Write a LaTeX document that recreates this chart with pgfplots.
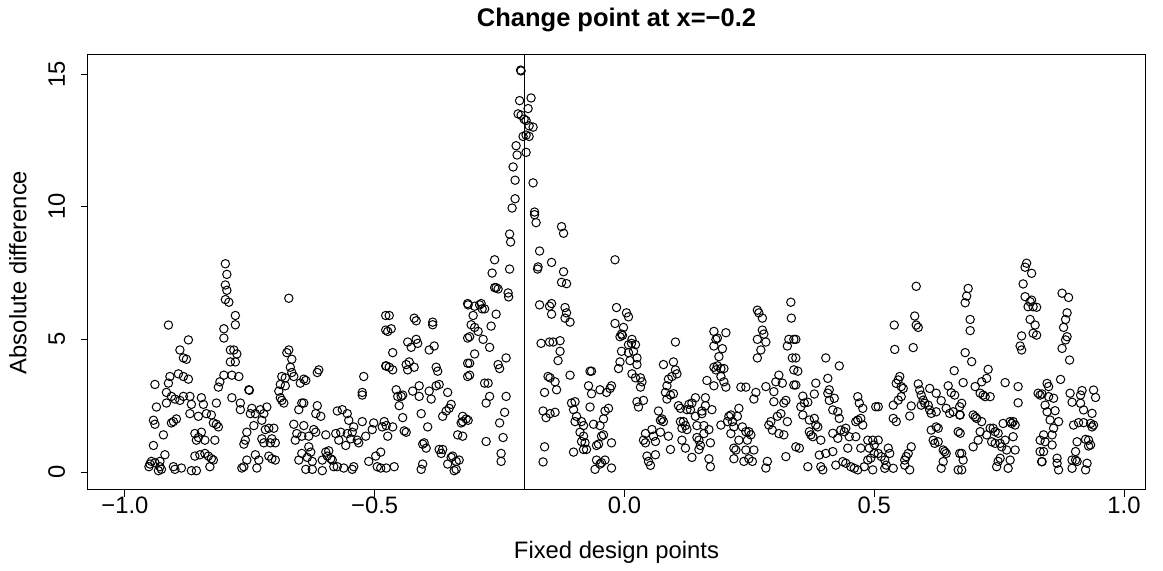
\documentclass[border=0pt]{standalone}
\usepackage{fontspec}
\setmainfont{Liberation Sans}
\usepackage{pgfplots}
\pgfplotsset{compat=1.18}
\begin{document}
\begin{tikzpicture}
\useasboundingbox (0,0) rectangle (581.5pt,285.5pt);
\begin{axis}[
  at={(44pt,40.5pt)}, anchor=south west,
  scale only axis, width=528.5pt, height=217.5pt,
  xmin=-1.074, xmax=1.042, ymin=-0.678, ymax=15.72,
  axis line style={line width=0.5pt},
  tick align=outside, major tick length=3.5pt,
  xtick pos=left, ytick pos=left,
  xtick={-1,-0.5,0,0.5,1}, xticklabels={−1.0,−0.5,0.0,0.5,1.0},
  ytick={0,5,10,15}, yticklabels={0,5,10,15},
  every tick/.style={black, line width=0.5pt},
  tick label style={font=\fontsize{11.9pt}{14pt}\selectfont},
  xticklabel style={anchor=base, yshift=-8.5pt},
  yticklabel style={xshift=-8pt, rotate=90, anchor=base},
  every axis title/.style={at={(0.5,1)}, anchor=base, yshift=14pt, font=\bfseries\fontsize{12.75pt}{15pt}\selectfont},
  every axis x label/.style={at={(axis description cs:0.5,0)}, anchor=base, yshift=-34.25pt, font=\fontsize{11.9pt}{14pt}\selectfont},
  every axis y label/.style={at={(axis description cs:0,0.5)}, xshift=-30.75pt, rotate=90, anchor=base, font=\fontsize{11.9pt}{14pt}\selectfont},
  title={Change point at x=−0.2},
  xlabel={Fixed design points},
  ylabel={Absolute difference},
]
\addplot[only marks, mark=o, mark size=2.1pt, mark options={line width=0.5pt, black}] coordinates {
(-0.952,0.2) (-0.950,0.3)
(-0.913,5.54) (-0.873,4.98) (-0.890,4.6) (-0.883,4.3) (-0.877,4.25) (-0.910,3.6) (-0.893,3.7) (-0.883,3.6) (-0.873,3.5) (-0.940,3.3) (-0.913,3.35) (-0.917,3.0) (-0.907,2.85) (-0.900,2.75) (-0.890,2.7) (-0.883,2.85) (-0.870,2.85) (-0.867,2.55) (-0.847,2.8) (-0.843,2.55) (-0.817,2.6) (-0.810,3.4) (-0.813,3.2) (-0.937,2.45) (-0.917,2.6) (-0.870,2.2) (-0.853,2.1) (-0.837,2.2) (-0.827,2.15) (-0.943,1.95) (-0.940,1.8) (-0.907,1.85) (-0.903,1.9) (-0.897,2.0) (-0.823,1.85) (-0.817,1.8) (-0.813,1.7) (-0.923,1.4) (-0.860,1.45) (-0.853,1.3) (-0.847,1.5) (-0.840,1.2) (-0.857,1.2) (-0.820,1.2) (-0.943,1.0) (-0.920,0.65) (-0.860,0.6) (-0.850,0.65) (-0.840,0.7) (-0.833,0.6) (-0.827,0.5) (-0.823,0.45) (-0.947,0.4) (-0.940,0.35) (-0.930,0.4) (-0.927,0.1) (-0.933,0.05) (-0.930,0.2) (-0.903,0.2) (-0.900,0.1) (-0.887,0.15) (-0.867,0.05) (-0.857,0.05) (-0.830,0.2)
(-0.799,7.85) (-0.796,7.45) (-0.799,7.05) (-0.796,6.85) (-0.799,6.5) (-0.792,6.4) (-0.672,6.55) (-0.779,5.9) (-0.779,5.55) (-0.802,5.4) (-0.802,5.05) (-0.789,4.6) (-0.782,4.6) (-0.776,4.45) (-0.789,4.15) (-0.779,4.15) (-0.672,4.6) (-0.676,4.5) (-0.666,4.25) (-0.669,3.95) (-0.666,3.75) (-0.662,3.6) (-0.679,3.55) (-0.686,3.6) (-0.689,3.3) (-0.679,3.25) (-0.802,3.65) (-0.786,3.65) (-0.772,3.6) (-0.752,3.1) (-0.751,3.08) (-0.786,2.8) (-0.769,2.6) (-0.769,2.35) (-0.746,2.4) (-0.739,2.2) (-0.749,2.2) (-0.729,2.35) (-0.722,2.2) (-0.716,2.45) (-0.726,1.95) (-0.692,3.05) (-0.689,2.8) (-0.682,2.6) (-0.686,2.7) (-0.649,3.35) (-0.646,2.6) (-0.652,2.35) (-0.742,1.75) (-0.756,1.5) (-0.759,1.2) (-0.762,1.05) (-0.719,1.6) (-0.712,1.65) (-0.702,1.65) (-0.706,1.25) (-0.709,1.1) (-0.699,1.1) (-0.726,1.25) (-0.722,1.1) (-0.662,1.8) (-0.656,1.45) (-0.659,1.2) (-0.646,1.35) (-0.739,0.65) (-0.732,0.45) (-0.712,0.6) (-0.706,0.5) (-0.699,0.45) (-0.756,0.45) (-0.762,0.2) (-0.766,0.15) (-0.736,0.15) (-0.652,0.45) (-0.646,0.7)
(-0.478,5.9) (-0.478,5.35) (-0.478,4.0) (-0.612,3.85) (-0.615,3.75) (-0.642,3.5) (-0.638,3.45) (-0.522,3.6) (-0.525,3.0) (-0.525,2.9) (-0.642,2.6) (-0.615,2.5) (-0.618,2.2) (-0.608,2.1) (-0.575,2.3) (-0.565,2.35) (-0.555,2.2) (-0.552,1.95) (-0.542,1.7) (-0.545,1.5) (-0.555,1.45) (-0.525,1.9) (-0.502,1.85) (-0.505,1.6) (-0.485,1.7) (-0.481,1.9) (-0.642,1.75) (-0.622,1.6) (-0.632,1.35) (-0.618,1.5) (-0.598,1.4) (-0.578,1.45) (-0.568,1.5) (-0.572,1.2) (-0.558,1.0) (-0.548,1.25) (-0.535,1.2) (-0.532,1.1) (-0.518,1.35) (-0.632,0.95) (-0.628,0.75) (-0.635,0.55) (-0.625,0.4) (-0.605,0.45) (-0.598,0.75) (-0.592,0.8) (-0.595,0.6) (-0.588,0.5) (-0.585,0.45) (-0.582,0.2) (-0.575,0.2) (-0.562,0.15) (-0.542,0.2) (-0.545,0.1) (-0.512,0.4) (-0.495,0.2) (-0.488,0.15) (-0.498,0.6) (-0.488,0.75) (-0.638,0.1) (-0.625,0.1) (-0.605,0.05)
(-0.471,5.9) (-0.467,5.4) (-0.474,5.3) (-0.421,5.8) (-0.417,5.7) (-0.384,5.65) (-0.384,5.55) (-0.314,6.35) (-0.314,5.05) (-0.464,4.5) (-0.434,4.9) (-0.417,5.0) (-0.414,4.85) (-0.427,4.7) (-0.391,4.6) (-0.381,4.75) (-0.477,4.0) (-0.471,3.95) (-0.464,3.85) (-0.437,4.05) (-0.431,4.15) (-0.421,3.95) (-0.434,3.85) (-0.377,3.95) (-0.374,3.8) (-0.314,4.1) (-0.314,3.6) (-0.457,3.1) (-0.454,2.85) (-0.447,2.85) (-0.451,2.5) (-0.444,2.9) (-0.424,3.05) (-0.411,3.25) (-0.391,3.05) (-0.387,2.75) (-0.377,3.25) (-0.371,3.3) (-0.354,3.0) (-0.411,2.85) (-0.364,2.1) (-0.357,2.3) (-0.347,2.55) (-0.351,2.4) (-0.324,2.1) (-0.317,2.0) (-0.477,1.75) (-0.474,1.35) (-0.464,1.7) (-0.441,1.55) (-0.437,1.5) (-0.407,2.2) (-0.394,1.7) (-0.444,2.05) (-0.327,1.85) (-0.324,1.9) (-0.334,1.4) (-0.324,1.35) (-0.401,1.1) (-0.397,0.9) (-0.404,1.05) (-0.371,0.85) (-0.367,0.7) (-0.364,0.85) (-0.347,0.55) (-0.344,0.6) (-0.337,0.4) (-0.331,0.45) (-0.354,0.3) (-0.337,0.1) (-0.341,0.05) (-0.461,0.2) (-0.477,0.15) (-0.404,0.3) (-0.407,0.1)
(-0.208,15.15) (-0.207,15.12) (-0.210,14.0) (-0.187,14.1) (-0.193,13.7) (-0.213,13.5) (-0.207,13.45) (-0.201,13.3) (-0.197,13.25) (-0.191,13.05) (-0.183,13.0) (-0.203,12.65) (-0.191,12.65) (-0.197,12.7) (-0.217,12.3) (-0.215,11.95) (-0.197,12.05) (-0.223,11.5) (-0.219,11.0) (-0.183,10.9) (-0.219,10.3) (-0.225,9.95) (-0.180,9.8) (-0.177,9.4) (-0.180,9.7) (-0.230,8.97) (-0.228,8.67) (-0.170,8.33) (-0.173,7.73) (-0.174,7.65) (-0.260,8.0) (-0.265,7.5) (-0.230,7.65) (-0.260,6.95) (-0.257,6.95) (-0.253,6.9) (-0.233,6.75) (-0.232,6.6) (-0.313,6.3) (-0.300,6.25) (-0.290,6.3) (-0.285,6.15) (-0.280,6.15) (-0.287,6.35) (-0.303,5.9) (-0.257,5.95) (-0.307,5.55) (-0.300,5.45) (-0.293,5.3) (-0.283,5.0) (-0.310,5.1) (-0.267,5.5) (-0.270,4.7) (-0.300,4.45) (-0.310,4.1) (-0.310,3.65) (-0.237,4.3) (-0.253,4.05) (-0.250,3.9) (-0.170,6.3) (-0.167,4.85) (-0.150,4.9) (-0.150,6.25) (-0.153,3.6) (-0.160,3.0) (-0.163,2.3) (-0.157,2.05) (-0.160,0.95) (-0.163,0.38) (-0.280,3.35) (-0.273,3.35) (-0.277,2.6) (-0.270,2.85) (-0.237,2.85) (-0.240,2.25) (-0.250,1.85) (-0.243,1.3) (-0.277,1.15) (-0.313,1.95) (-0.247,0.7) (-0.247,0.4)
(-0.126,9.25) (-0.122,9.0) (-0.019,8.0) (-0.146,7.9) (-0.122,7.55) (-0.126,7.15) (-0.116,7.1) (-0.146,6.35) (-0.146,5.95) (-0.119,6.2) (-0.116,6.0) (-0.119,5.8) (-0.109,5.65) (-0.016,6.2) (0.004,6.0) (0.008,5.85) (-0.019,5.6) (-0.002,5.45) (-0.006,5.2) (-0.009,5.1) (-0.004,5.15) (0.008,4.8) (-0.006,4.55) (0.008,4.5) (0.011,4.2) (-0.009,4.15) (0.014,4.85) (-0.012,3.9) (-0.143,4.9) (-0.129,4.95) (-0.129,4.55) (-0.133,4.2) (-0.149,3.55) (-0.139,3.4) (-0.136,3.1) (-0.109,3.65) (-0.069,3.8) (-0.066,3.8) (-0.072,3.25) (-0.066,2.95) (-0.069,2.45) (-0.049,3.1) (-0.036,3.0) (-0.029,3.15) (-0.026,3.25) (-0.106,2.6) (-0.099,2.65) (-0.102,2.35) (-0.096,2.1) (-0.099,1.9) (-0.086,1.9) (-0.082,1.75) (-0.089,1.5) (-0.082,1.35) (-0.086,1.15) (-0.079,1.1) (-0.082,0.85) (-0.076,0.85) (-0.102,0.75) (-0.062,1.8) (-0.049,1.75) (-0.042,2.0) (-0.039,2.3) (-0.032,2.4) (-0.046,1.35) (-0.052,1.05) (-0.056,1.0) (-0.042,1.4) (-0.026,1.1) (-0.056,0.45) (-0.046,0.35) (-0.049,0.3) (-0.039,0.45) (-0.059,0.1) (-0.026,0.15) (-0.149,2.2) (-0.139,2.25)
(0.015,5.0) (0.022,4.8) (0.018,4.55) (0.025,4.3) (0.025,4.05) (0.179,5.3) (0.179,4.75) (0.102,4.9) (0.078,4.05) (0.098,4.15) (0.102,3.85) (0.105,3.7) (0.015,3.7) (0.022,3.55) (0.032,3.55) (0.035,3.4) (0.032,3.2) (0.088,3.5) (0.095,3.6) (0.085,3.25) (0.082,3.0) (0.092,2.9) (0.098,2.95) (0.085,2.75) (0.179,3.95) (0.165,3.45) (0.025,2.65) (0.038,2.7) (0.028,2.45) (0.108,2.5) (0.112,2.4) (0.129,2.55) (0.135,2.6) (0.142,2.8) (0.132,2.35) (0.125,2.35) (0.155,2.3) (0.162,2.8) (0.162,2.5) (0.179,3.25) (0.175,2.35) (0.068,2.3) (0.072,1.95) (0.078,1.9) (0.075,2.0) (0.112,1.9) (0.115,1.65) (0.122,1.75) (0.125,1.6) (0.118,1.9) (0.142,2.1) (0.145,1.75) (0.155,2.2) (0.159,1.75) (0.159,1.45) (0.169,1.6) (0.172,1.1) (0.149,1.2) (0.152,1.0) (0.042,1.45) (0.038,1.2) (0.042,1.1) (0.055,1.6) (0.058,1.35) (0.062,1.15) (0.072,1.5) (0.088,1.35) (0.092,0.85) (0.115,1.2) (0.122,0.9) (0.145,1.3) (0.149,0.85) (0.045,0.6) (0.048,0.4) (0.052,0.25) (0.062,0.65) (0.135,0.55) (0.169,0.5) (0.172,0.2)
(0.333,6.4) (0.334,5.8) (0.266,6.1) (0.269,6.0) (0.276,5.8) (0.276,5.35) (0.266,5.0) (0.279,5.2) (0.283,4.9) (0.273,4.6) (0.266,4.3) (0.183,5.0) (0.186,5.05) (0.203,5.25) (0.196,4.65) (0.189,4.35) (0.186,4.0) (0.183,3.85) (0.193,3.9) (0.199,3.9) (0.329,5.0) (0.339,5.0) (0.326,4.75) (0.336,4.3) (0.339,3.85) (0.193,3.6) (0.199,3.4) (0.203,3.2) (0.233,3.2) (0.243,3.2) (0.263,3.0) (0.259,2.75) (0.283,3.22) (0.303,3.4) (0.309,3.65) (0.316,3.35) (0.299,3.03) (0.339,3.28) (0.299,2.65) (0.323,2.7) (0.319,2.6) (0.313,2.2) (0.306,2.1) (0.293,1.9) (0.289,1.77) (0.296,1.58) (0.309,1.45) (0.319,1.4) (0.326,1.9) (0.209,2.1) (0.213,2.15) (0.216,1.9) (0.206,1.9) (0.226,2.1) (0.229,2.4) (0.193,1.77) (0.213,1.45) (0.219,1.7) (0.236,1.7) (0.243,1.52) (0.249,1.52) (0.253,1.4) (0.246,1.2) (0.229,1.2) (0.219,0.9) (0.223,0.83) (0.243,0.83) (0.259,0.83) (0.219,0.5) (0.239,0.4) (0.249,0.5) (0.256,0.4) (0.286,0.4) (0.283,0.15) (0.323,0.58)
(0.343,5.0) (0.343,4.3) (0.347,3.8) (0.343,3.28) (0.403,4.3) (0.430,4.0) (0.407,3.53) (0.383,3.35) (0.380,2.94) (0.410,3.1) (0.407,2.97) (0.410,2.7) (0.420,2.78) (0.467,2.84) (0.470,2.6) (0.477,2.4) (0.503,2.46) (0.357,2.86) (0.353,2.46) (0.360,2.6) (0.367,2.63) (0.357,2.15) (0.370,1.96) (0.380,2.02) (0.383,1.77) (0.387,1.7) (0.417,2.34) (0.427,2.27) (0.430,2.02) (0.467,1.96) (0.473,2.02) (0.477,1.77) (0.463,1.9) (0.370,1.52) (0.373,1.4) (0.377,1.33) (0.393,1.2) (0.417,1.46) (0.433,1.58) (0.443,1.65) (0.440,1.52) (0.450,1.33) (0.463,1.33) (0.427,1.27) (0.487,1.2) (0.497,1.2) (0.500,1.02) (0.490,0.9) (0.343,0.95) (0.350,0.9) (0.390,0.64) (0.403,0.7) (0.417,0.77) (0.447,0.9) (0.473,0.9) (0.500,0.7) (0.487,0.45) (0.480,0.2) (0.493,0.52) (0.367,0.2) (0.393,0.2) (0.397,0.08) (0.423,0.26) (0.437,0.39) (0.443,0.33) (0.453,0.2) (0.460,0.14) (0.467,0.08) (0.497,0.08)
(0.584,7.0) (0.581,5.88) (0.584,5.54) (0.588,5.45) (0.540,5.54) (0.541,4.62) (0.578,4.69) (0.660,3.82) (0.551,3.6) (0.548,3.47) (0.544,3.34) (0.554,3.22) (0.558,3.15) (0.588,3.32) (0.591,3.09) (0.594,2.9) (0.611,3.15) (0.624,2.97) (0.648,3.25) (0.654,2.99) (0.661,2.9) (0.554,2.84) (0.548,2.71) (0.538,2.52) (0.574,2.49) (0.598,2.71) (0.601,2.59) (0.608,2.52) (0.594,2.52) (0.611,2.34) (0.614,2.21) (0.624,2.27) (0.634,2.69) (0.644,2.4) (0.651,2.21) (0.658,2.27) (0.671,2.46) (0.671,2.15) (0.508,2.46) (0.538,2.02) (0.544,1.9) (0.571,2.11) (0.614,1.58) (0.624,1.7) (0.628,1.65) (0.618,1.2) (0.621,1.08) (0.628,1.14) (0.638,0.83) (0.641,0.77) (0.644,0.7) (0.668,1.52) (0.671,0.7) (0.508,1.2) (0.508,0.7) (0.514,0.58) (0.521,0.45) (0.528,0.9) (0.531,0.7) (0.524,0.26) (0.521,0.14) (0.538,0.14) (0.561,0.45) (0.564,0.58) (0.568,0.7) (0.574,0.95) (0.561,0.26) (0.571,0.08) (0.634,0.14) (0.638,0.39) (0.668,0.08)
(0.805,7.87) (0.802,7.72) (0.815,7.49) (0.798,7.09) (0.802,6.61) (0.812,6.42) (0.815,6.48) (0.808,6.23) (0.818,6.23) (0.825,6.21) (0.812,5.75) (0.822,5.54) (0.818,5.23) (0.825,5.16) (0.795,5.13) (0.792,4.75) (0.795,4.6) (0.688,6.92) (0.685,6.63) (0.682,6.38) (0.692,5.75) (0.692,5.33) (0.682,4.5) (0.695,4.16) (0.728,3.87) (0.725,3.53) (0.715,3.4) (0.702,3.22) (0.762,3.37) (0.788,3.22) (0.788,2.61) (0.678,3.37) (0.712,2.97) (0.718,2.9) (0.722,2.84) (0.732,2.84) (0.675,2.59) (0.672,2.15) (0.828,2.97) (0.832,2.9) (0.698,2.15) (0.702,2.08) (0.705,2.02) (0.715,1.9) (0.712,1.52) (0.708,1.2) (0.725,1.4) (0.732,1.65) (0.738,1.65) (0.742,1.52) (0.748,1.46) (0.758,1.83) (0.772,1.9) (0.778,1.9) (0.775,1.83) (0.782,1.77) (0.778,1.33) (0.762,1.2) (0.752,1.08) (0.755,0.95) (0.742,1.08) (0.735,1.14) (0.765,0.83) (0.782,0.83) (0.698,0.95) (0.672,1.46) (0.675,0.7) (0.678,0.45) (0.675,0.08) (0.752,0.52) (0.748,0.4) (0.745,0.2) (0.772,0.45) (0.768,0.14) (0.832,1.2) (0.832,0.77) (0.835,0.39)
(0.876,6.74) (0.889,6.58) (0.886,6.0) (0.883,5.75) (0.879,5.45) (0.886,5.1) (0.883,4.98) (0.876,4.66) (0.891,4.22) (0.873,3.49) (0.846,3.34) (0.849,3.22) (0.836,2.94) (0.849,2.84) (0.859,2.78) (0.842,2.52) (0.846,2.27) (0.862,2.31) (0.852,1.96) (0.869,1.9) (0.839,1.4) (0.856,1.4) (0.859,1.65) (0.842,1.14) (0.856,1.02) (0.839,0.77) (0.836,0.39) (0.866,0.52) (0.866,0.33) (0.869,0.08) (0.892,2.97) (0.896,2.63) (0.913,2.9) (0.916,3.07) (0.913,2.59) (0.919,2.34) (0.939,3.09) (0.943,2.81) (0.936,2.21) (0.939,1.77) (0.936,1.7) (0.933,1.83) (0.919,1.86) (0.909,1.86) (0.899,1.77) (0.906,1.14) (0.923,1.23) (0.929,1.2) (0.933,1.02) (0.929,0.98) (0.903,0.77) (0.896,0.45) (0.903,0.45) (0.906,0.4) (0.896,0.14) (0.926,0.33) (0.923,0.08)
};
\addplot[black, line width=0.5pt] coordinates {(-0.2,-0.678) (-0.2,15.72)};
\end{axis}
\end{tikzpicture}
\end{document}
